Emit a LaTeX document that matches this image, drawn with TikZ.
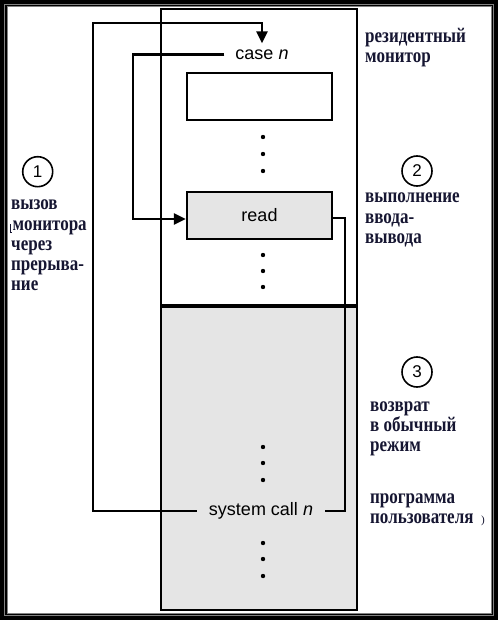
\documentclass[tikz,border=0pt]{standalone}
\usepackage{fontspec}
\setmainfont{Liberation Serif}
\setsansfont{Liberation Sans}
\usetikzlibrary{arrows.meta,calc}
\definecolor{ink}{RGB}{22,22,50}
\definecolor{fillgray}{RGB}{229,229,229}
\definecolor{framegray}{RGB}{130,130,130}
\newcommand{\tall}[1]{\scalebox{1}[1.22]{#1}}
\begin{document}
\begin{tikzpicture}[x=1pt,y=-1pt,
  ru/.style={font=\fontsize{17}{20}\selectfont\bfseries, text=ink, inner sep=0pt, anchor=base west},
  sf/.style={font=\sffamily\fontsize{18}{20}\selectfont, inner xsep=11pt, inner ysep=6pt},
  slot/.style={draw, line width=2.5pt, minimum width=145pt, minimum height=47pt, inner sep=0pt, font=\sffamily\fontsize{18}{20}\selectfont},
  num/.style={draw, circle, line width=1.6pt, minimum size=30pt, inner sep=0pt, font=\sffamily\fontsize{17}{20}\selectfont},
  wire/.style={line width=2.5pt},
  arr/.style={wire, -{Triangle[length=12pt,width=11pt]}},
  dot/.style={fill, circle, inner sep=0pt, minimum size=4.4pt}]
\useasboundingbox (0,0) rectangle (498,620);
% frame
\fill[black] (0,0) rectangle (498,620);
\draw[framegray, line width=1pt] (4.5,4.5) rectangle (493.5,615.5);
\draw[framegray, line width=1pt] (7,7) rectangle (491,613);
\fill[white] (7.5,7.5) rectangle (490.5,612.5);
% column
\fill[fillgray] (161,306) rectangle (357,610);
\draw[line width=2.5pt] (161,9) rectangle (357,610);
\draw[line width=3.2pt] (161,306) -- (357,306);
% nodes
\node[sf] (case) at (262,54.5) {case \textit{n}};
\node[slot, fill=white] (box) at (259.5,96.5) {};
\node[slot, fill=fillgray] (read) at (259.5,215.5) {read};
\node[sf, inner xsep=12pt] (sysc) at (261,511) {system call \textit{n}};
% dots
\foreach \y [count=\i] in {137,154,171} \node[dot] (da\i) at (263,\y) {};
\foreach \y [count=\i] in {255,271,287} \node[dot] (db\i) at (263,\y) {};
\foreach \y [count=\i] in {447,463,480} \node[dot] (dc\i) at (263,\y) {};
\foreach \y [count=\i] in {543,559,576} \node[dot] (dd\i) at (263,\y) {};
% connectors
\coordinate (c1) at (93,23);
\coordinate (c2) at (133,219);
\coordinate (c3) at (345,511);
\draw[arr] (sysc.west) -| (c1) -| (case.north);
\draw[arr] (case.west) -| (c2) -- (c2 -| read.west);
\draw[wire] (read.east |- 0,218) -| (c3) -- (sysc.east);
% circles
\node[num] (n1) at (37.7,171.7) {1};
\node[num] (n2) at (417,171) {2};
\node[num] (n3) at (417,372) {3};
% labels
\node[ru] (t1a) at (365,43) {\tall{резидентный}};
\node[ru] (t1b) at (365,63) {\tall{монитор}};
\node[ru] (t2a) at (365,203) {\tall{выполнение}};
\node[ru] (t2b) at (365,223) {\tall{ввода-}};
\node[ru] (t2c) at (365,243) {\tall{вывода}};
\node[ru] (t3a) at (11,210) {\tall{вызов}};
\node[ru] (t3b) at (12.5,230) {\tall{монитора}};
\node[ru] (t3c) at (11,250) {\tall{через}};
\node[ru] (t3d) at (11,270) {\tall{прерыва-}};
\node[ru] (t3e) at (11,290) {\tall{ние}};
\node[ru] (t4a) at (370,411) {\tall{возврат}};
\node[ru] (t4b) at (370,431) {\tall{в обычный}};
\node[ru] (t4c) at (370,451) {\tall{режим}};
\node[ru] (t5a) at (370,503) {\tall{программа}};
\node[ru] (t5b) at (370,523) {\tall{пользователя}};
\node[ru, font=\fontsize{11}{12}\selectfont] (t5c) at (481,523) {)};
\draw[ink, line width=0.8pt] (10.8,224) -- (10.8,232) -- (12,232);
\end{tikzpicture}
\end{document}
